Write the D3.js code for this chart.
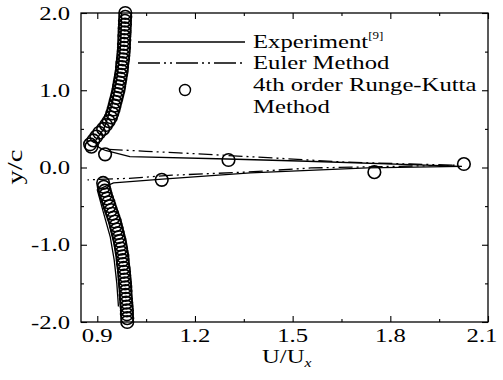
<!DOCTYPE html>
<html>
<head>
<meta charset="utf-8">
<script src="https://cdn.jsdelivr.net/npm/d3@7"></script>
<style>
  body { margin: 0; background: #fff; }
  text { font-family: "Liberation Serif", "Times New Roman", serif; fill: #000; }
</style>
</head>
<body>
<svg></svg>
<script>
// 4th order Runge-Kutta, outer branches (y/c, U/Ux)
var rkUpperY = [2.0, 1.95, 1.9, 1.85, 1.8, 1.75, 1.7, 1.65, 1.6, 1.55, 1.5, 1.45, 1.4, 1.35, 1.3, 1.25, 1.2, 1.15, 1.1, 1.05,
                1.0, 0.95, 0.9, 0.85, 0.8, 0.75, 0.7, 0.65, 0.6, 0.55, 0.5, 0.45, 0.4, 0.35, 0.3, 0.27];
var rkUpperU = [0.986, 0.986, 0.985, 0.985, 0.984, 0.984, 0.983, 0.983, 0.982, 0.982, 0.981, 0.980, 0.979, 0.977, 0.976, 0.975, 0.973, 0.971, 0.969, 0.967,
                0.965, 0.962, 0.959, 0.956, 0.953, 0.950, 0.946, 0.942, 0.935, 0.927, 0.918, 0.906, 0.897, 0.888, 0.878, 0.882];
var rkLowerY = [-0.2, -0.25, -0.3, -0.35, -0.4, -0.45, -0.5, -0.55, -0.6, -0.65, -0.7, -0.75, -0.8, -0.85, -0.9, -0.95, -1.0, -1.05, -1.1,
                -1.15, -1.2, -1.25, -1.3, -1.35, -1.4, -1.45, -1.5, -1.55, -1.6, -1.65, -1.7, -1.75, -1.8, -1.85, -1.9, -1.95, -2.0];
var rkLowerU = [0.918, 0.920, 0.923, 0.926, 0.930, 0.934, 0.938, 0.942, 0.946, 0.950, 0.954, 0.957, 0.960, 0.963, 0.966, 0.969, 0.971, 0.973, 0.975,
                0.977, 0.978, 0.979, 0.981, 0.982, 0.983, 0.984, 0.985, 0.986, 0.987, 0.987, 0.988, 0.989, 0.990, 0.991, 0.991, 0.992, 0.992];
// 4th order Runge-Kutta, points in the jet
var rkJetU = [0.924, 1.303, 2.026, 1.751, 1.098];
var rkJetY = [0.17, 0.097, 0.045, -0.06, -0.16];

// Experiment [9]
var expU = [0.975, 0.972, 0.962, 0.945, 0.920, 0.895, 0.905, 0.925, 1.0, 1.3, 1.52, 1.91, 2.02,
            1.73, 1.37, 1.1, 0.95, 0.90, 0.92, 0.94, 0.952, 0.96, 0.965];
var expY = [2.0, 1.6, 1.2, 0.8, 0.5, 0.35, 0.26, 0.22, 0.14, 0.11, 0.084, 0.032, 0.015,
            -0.006, -0.07, -0.15, -0.2, -0.29, -0.6, -0.9, -1.2, -1.5, -1.8];

// Euler Method
var eulerU = [0.935, 1.05, 1.15, 1.455, 1.66, 1.86, 2.0, 1.556, 1.355, 1.13, 0.998, 0.87];
var eulerY = [0.235, 0.21, 0.19, 0.12, 0.07, 0.045, 0.03, -0.006, -0.06, -0.1, -0.14, -0.16];

var xTicks = [0.9, 1.2, 1.5, 1.8, 2.1];
var xMinor = [1.05, 1.35, 1.65, 1.95];
var yTicks = [-2.0, -1.0, 0.0, 1.0, 2.0];
var yMinor = [-1.5, -0.5, 0.5, 1.5];
var legendLabels = ["Experiment", "Euler Method", "4th order Runge-Kutta", "Method"];

var svgWidth = 503, svgHeight = 380;
var plotLeft = 81, plotRight = 488, plotTop = 13, plotBottom = 322;
var sx = 1.3; // the scanned lettering is wider than Times

var svg = d3.select("svg").attr("width", svgWidth).attr("height", svgHeight);

var x = d3.scaleLinear().domain([0.85, 2.1]).range([plotLeft, plotRight]);
var y = d3.scaleLinear().domain([-2, 2]).range([plotBottom, plotTop]);

// plain hyphen for negatives, as in the original
function fmt(d) { return d.toFixed(1); }

// frame
svg.append("rect")
    .attr("x", plotLeft).attr("y", plotTop)
    .attr("width", plotRight - plotLeft).attr("height", plotBottom - plotTop)
    .attr("fill", "none").attr("stroke", "#000").attr("stroke-width", 1.3);

// inward ticks on all four sides
function ticks(axis, pos, values, size) {
    var g = svg.append("g").attr("transform", pos)
        .call(axis.tickValues(values).tickSize(-size).tickFormat(""));
    g.select(".domain").remove();
    g.selectAll("line").attr("stroke-width", 1.1);
    return g;
}
ticks(d3.axisBottom(x), "translate(0," + plotBottom + ")", xTicks, 6);
ticks(d3.axisBottom(x), "translate(0," + plotBottom + ")", xMinor, 3);
ticks(d3.axisTop(x), "translate(0," + plotTop + ")", xTicks, 6);
ticks(d3.axisTop(x), "translate(0," + plotTop + ")", xMinor, 3);
ticks(d3.axisLeft(y), "translate(" + plotLeft + ",0)", yTicks, 6);
ticks(d3.axisLeft(y), "translate(" + plotLeft + ",0)", yMinor, 3);
ticks(d3.axisRight(y), "translate(" + plotRight + ",0)", yTicks, 6);
ticks(d3.axisRight(y), "translate(" + plotRight + ",0)", yMinor, 3);

// tick labels
svg.selectAll(".xlab").data(xTicks).enter().append("text")
    .attr("class", "xlab")
    .attr("transform", function (d, i) {
        var shift = i === xTicks.length - 1 ? -6 : 0;
        return "translate(" + (x(d) + shift) + ",342) scale(" + sx + ",1)";
    })
    .attr("text-anchor", "middle")
    .style("font-size", "19px")
    .text(fmt);

svg.selectAll(".ylab").data(yTicks).enter().append("text")
    .attr("class", "ylab")
    .attr("transform", function (d) { return "translate(70," + (y(d) + 6.5) + ") scale(" + sx + ",1)"; })
    .attr("text-anchor", "end")
    .style("font-size", "19px")
    .text(fmt);

// axis titles
var xt = svg.append("text")
    .attr("transform", "translate(262,363) scale(" + sx + ",1)")
    .style("font-size", "19px");
xt.append("tspan").text("U/U");
xt.append("tspan").attr("dy", 4).style("font-size", "12px").style("font-style", "italic").text("x");

svg.append("text")
    .attr("transform", "translate(22,167) rotate(-90) scale(" + sx + ",1)")
    .attr("text-anchor", "middle")
    .style("font-size", "22px")
    .text("y/c");

// lines
var line = d3.line()
    .x(function (d) { return x(d[0]); })
    .y(function (d) { return y(d[1]); });

svg.append("path")
    .datum(d3.zip(expU, expY))
    .attr("d", line)
    .attr("fill", "none").attr("stroke", "#000").attr("stroke-width", 1.3);

svg.append("path")
    .datum(d3.zip(eulerU, eulerY))
    .attr("d", line)
    .attr("fill", "none").attr("stroke", "#000").attr("stroke-width", 1.3)
    .attr("stroke-dasharray", "14,4,2,4,2,4");

// circles
var rk = d3.zip(rkUpperU, rkUpperY).concat(d3.zip(rkJetU, rkJetY)).concat(d3.zip(rkLowerU, rkLowerY));
svg.selectAll(".rk").data(rk).enter().append("circle")
    .attr("class", "rk")
    .attr("cx", function (d) { return x(d[0]); })
    .attr("cy", function (d) { return y(d[1]); })
    .attr("r", 6.3)
    .attr("fill", "none").attr("stroke", "#000").attr("stroke-width", 1.6);

// legend
svg.append("line").attr("x1", 138).attr("x2", 245).attr("y1", 42).attr("y2", 42)
    .attr("stroke", "#000").attr("stroke-width", 1.3);
svg.append("line").attr("x1", 138).attr("x2", 245).attr("y1", 63).attr("y2", 63)
    .attr("stroke", "#000").attr("stroke-width", 1.3).attr("stroke-dasharray", "22,4,2,4,2,4");
svg.append("circle").attr("cx", 185).attr("cy", 90).attr("r", 5.5)
    .attr("fill", "none").attr("stroke", "#000").attr("stroke-width", 1.4);

var legendY = [48, 69, 91, 113];
svg.selectAll(".leg").data(legendLabels).enter().append("text")
    .attr("class", "leg")
    .attr("transform", function (d, i) { return "translate(253," + legendY[i] + ") scale(" + sx + ",1)"; })
    .style("font-size", "19px")
    .each(function (d, i) {
        var t = d3.select(this);
        t.append("tspan").text(d);
        if (i === 0) t.append("tspan").attr("dy", -9).style("font-size", "10px").text("[9]");
    });
</script>
</body>
</html>
